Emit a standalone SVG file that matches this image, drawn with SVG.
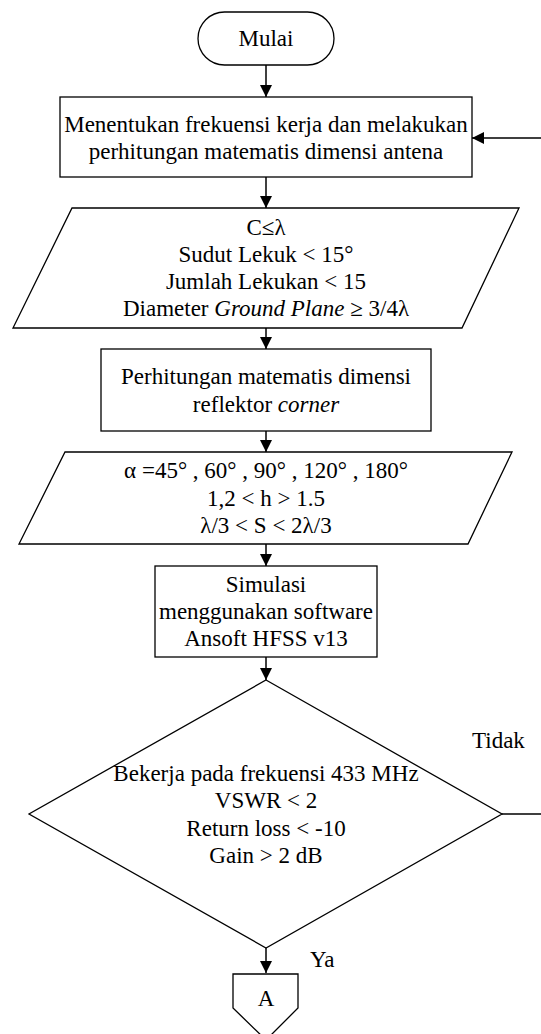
<svg xmlns="http://www.w3.org/2000/svg" width="541" height="1034" viewBox="0 0 541 1034">
<style>
.s{fill:#fff;stroke:#000;stroke-width:1.3}
.c{fill:none;stroke:#000;stroke-width:1.5}
text{font-family:"Liberation Serif","Times New Roman",serif;font-size:23px;fill:#000;text-anchor:middle}
.l{text-anchor:start}
</style>
<defs>
<marker id="ah" markerUnits="userSpaceOnUse" markerWidth="14" markerHeight="12" refX="12" refY="6" orient="auto">
<path d="M0,0 L12,6 L0,12 Z" fill="#000"/>
</marker>
</defs>
<rect width="541" height="1034" fill="#fff"/>
<g id="connectors">
<line class="c" x1="266" y1="65" x2="266" y2="97" marker-end="url(#ah)"/>
<line class="c" x1="266" y1="177" x2="266" y2="208" marker-end="url(#ah)"/>
<line class="c" x1="266" y1="328" x2="266" y2="349" marker-end="url(#ah)"/>
<line class="c" x1="266" y1="431" x2="266" y2="452" marker-end="url(#ah)"/>
<line class="c" x1="266" y1="544" x2="266" y2="566" marker-end="url(#ah)"/>
<line class="c" x1="266" y1="657" x2="266" y2="680" marker-end="url(#ah)"/>
<line class="c" x1="266" y1="948" x2="266" y2="973" marker-end="url(#ah)"/>
<polyline class="c" points="502,814 543,814 543,138 472,138" marker-end="url(#ah)"/>
<text class="l" x="472" y="748">Tidak</text>
<text class="l" x="310" y="967">Ya</text>
</g>
<g id="start">
<rect class="s" x="198" y="12" width="136" height="53" rx="26.5"/>
<text x="266" y="46">Mulai</text>
</g>
<g id="step1">
<rect class="s" x="60" y="97" width="412" height="80"/>
<text x="266" y="131.5">Menentukan frekuensi kerja dan melakukan</text>
<text x="266" y="158.5">perhitungan matematis dimensi antena</text>
</g>
<g id="input1">
<polygon class="s" points="72,208 519,208 462,328 13,328"/>
<text x="266" y="235">C≤λ</text>
<text x="266" y="262">Sudut Lekuk &lt; 15°</text>
<text x="266" y="289">Jumlah Lekukan &lt; 15</text>
<text x="266" y="316">Diameter <tspan font-style="italic">Ground Plane</tspan> ≥ 3/4λ</text>
</g>
<g id="step2">
<rect class="s" x="101" y="349" width="330" height="82"/>
<text x="266" y="384">Perhitungan matematis dimensi</text>
<text x="266" y="412">reflektor <tspan font-style="italic">corner</tspan></text>
</g>
<g id="input2">
<polygon class="s" points="65,452 512,452 468,544 19,544"/>
<text x="266" y="478">α =45° , 60° , 90° , 120° , 180°</text>
<text x="266" y="506">1,2 &lt; h &gt; 1.5</text>
<text x="266" y="533">λ/3 &lt; S &lt; 2λ/3</text>
</g>
<g id="simulation">
<rect class="s" x="155" y="566" width="222" height="91"/>
<text x="266" y="592">Simulasi</text>
<text x="266" y="619">menggunakan software</text>
<text x="266" y="646">Ansoft HFSS v13</text>
</g>
<g id="decision">
<polygon class="s" points="266,680 502,814 266,948 29,814"/>
<text x="266" y="781">Bekerja pada frekuensi 433 MHz</text>
<text x="266" y="808">VSWR &lt; 2</text>
<text x="266" y="836">Return loss &lt; -10</text>
<text x="266" y="863">Gain &gt; 2 dB</text>
</g>
<g id="connectorA">
<polygon class="s" points="233,974 298,974 298,1008 266,1040 233,1008"/>
<text x="266" y="1006">A</text>
</g>
</svg>
